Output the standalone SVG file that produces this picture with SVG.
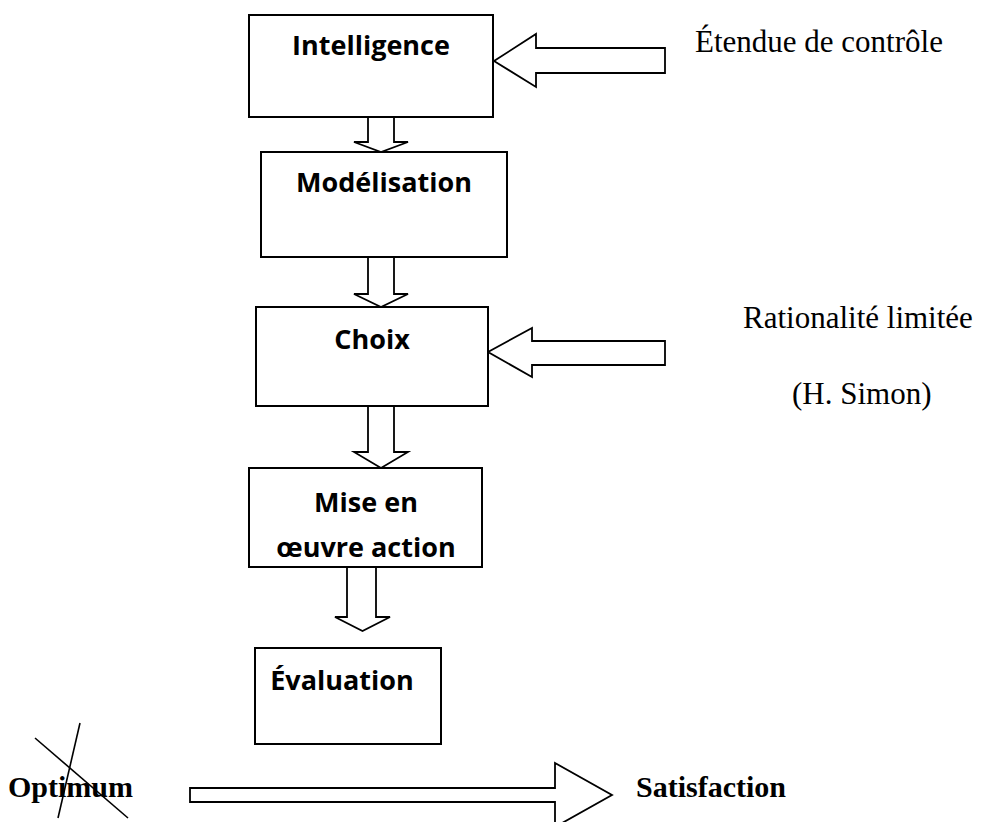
<svg xmlns="http://www.w3.org/2000/svg" width="992" height="822" viewBox="0 0 992 822">
  <style>
    .box { fill: #ffffff; stroke: #000000; stroke-width: 2; }
    .blk { fill: #ffffff; stroke: #000000; stroke-width: 1.8; stroke-linejoin: miter; }
    .lbl { font-family: "Open Sans", "Liberation Sans", sans-serif; font-weight: 700; font-size: 27px; fill: #000000; text-anchor: middle; }
    .note { font-family: "Liberation Serif", "Times New Roman", serif; font-size: 31px; fill: #000000; }
    .bold { font-family: "Liberation Serif", "Times New Roman", serif; font-weight: 700; font-size: 30px; fill: #000000; }
    .cross { stroke: #000000; stroke-width: 1.6; fill: none; }
  </style>
  <rect width="992" height="822" fill="#ffffff"/>

  <!-- block arrows -->
  <g id="connectors">
    <polygon class="blk" points="368,117 394,117 394,142 408,142 381,152 354,142 368,142"/>
    <polygon class="blk" points="368,257 394,257 394,294 408,294 381,307 354,294 368,294"/>
    <polygon class="blk" points="368,406 394,406 394,452 408,452 381,468 354,452 368,452"/>
    <polygon class="blk" points="347,567 376,567 376,617 390,617 362.5,631 335,617 347,617"/>
    <polygon class="blk" points="665,48 536,48 536,34 494,61 536,87 536,73 665,73"/>
    <polygon class="blk" points="665,341 532,341 532,328 488,352 532,377 532,365 665,365"/>
    <polygon class="blk" points="190,788 555,788 555,763 612,795 555,827 555,802 190,802"/>
  </g>

  <g id="intelligence">
    <rect class="box" x="249" y="15" width="244" height="102"/>
    <text class="lbl" x="371" y="55">Intelligence</text>
  </g>
  <g id="modelisation">
    <rect class="box" x="261" y="152" width="246" height="105"/>
    <text class="lbl" x="384" y="192">Modélisation</text>
  </g>
  <g id="choix">
    <rect class="box" x="256" y="307" width="232" height="99"/>
    <text class="lbl" x="372" y="349">Choix</text>
  </g>
  <g id="mise-en-oeuvre">
    <rect class="box" x="249" y="468" width="233" height="99"/>
    <text class="lbl" x="366" y="512">Mise en</text>
    <text class="lbl" x="366" y="557">œuvre action</text>
  </g>
  <g id="evaluation">
    <rect class="box" x="255" y="648" width="186" height="96"/>
    <text class="lbl" x="342" y="690">Évaluation</text>
  </g>

  <g id="etendue">
    <text class="note" x="695" y="52">Étendue de contrôle</text>
  </g>
  <g id="rationalite">
    <text class="note" x="743" y="328">Rationalité limitée</text>
    <text class="note" x="792" y="404">(H. Simon)</text>
  </g>

  <g id="optimum">
    <text class="bold" x="8" y="797">Optimum</text>
    <line class="cross" x1="35" y1="738" x2="128" y2="818"/>
    <line class="cross" x1="80" y1="723" x2="58" y2="818"/>
  </g>
  <g id="satisfaction">
    <text class="bold" x="636" y="797">Satisfaction</text>
  </g>
</svg>
